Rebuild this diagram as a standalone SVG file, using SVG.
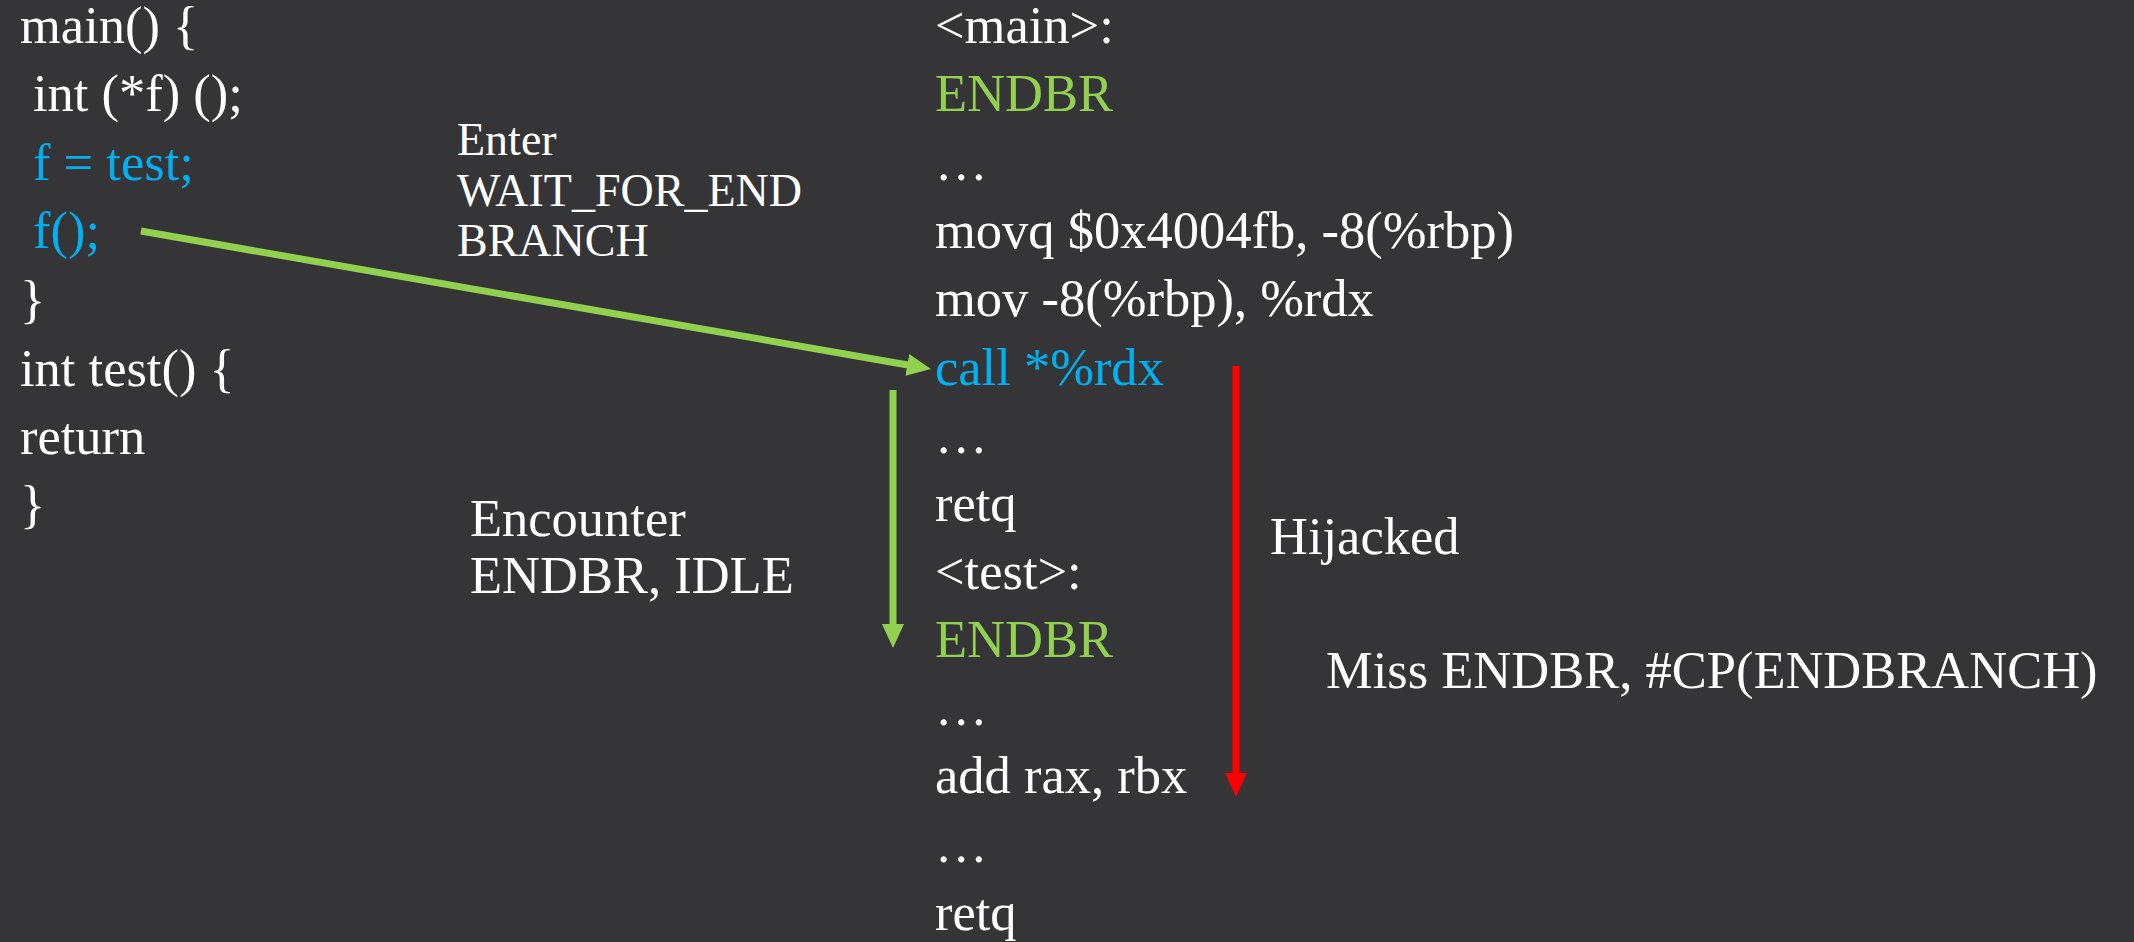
<svg xmlns="http://www.w3.org/2000/svg" width="2134" height="942" viewBox="0 0 2134 942">
  <style>
    text { font-family: "Liberation Serif", "Times New Roman", serif; font-size: 52.5px; fill: #ffffff; }
    .blue { fill: #00b0f0; }
    .green { fill: #92d050; }
    .small { font-size: 46px; }
    .conn-g { stroke: #92d050; stroke-width: 7; fill: none; }
    .conn-r { stroke: #ff0000; stroke-width: 7; fill: none; }
  </style>
  <defs>
    <marker id="head-g" markerUnits="userSpaceOnUse" markerWidth="24" markerHeight="22" refX="2" refY="11" orient="auto">
      <path d="M0,0 L24,11 L0,22 z" fill="#92d050"/>
    </marker>
    <marker id="head-r" markerUnits="userSpaceOnUse" markerWidth="24" markerHeight="22" refX="2" refY="11" orient="auto">
      <path d="M0,0 L24,11 L0,22 z" fill="#ff0000"/>
    </marker>
  </defs>

  <rect width="2134" height="942" fill="#353537"/>

  <!-- C source -->
  <g id="source">
    <text x="20" y="43">main() {</text>
    <text x="33" y="111">int (*f) ();</text>
    <text x="33" y="180" class="blue">f = test;</text>
    <text x="33" y="248" class="blue">f();</text>
    <text x="20" y="317">}</text>
    <text x="20" y="386">int test() {</text>
    <text x="20" y="454">return</text>
    <text x="20" y="522">}</text>
  </g>

  <!-- Disassembly -->
  <g id="disasm">
    <text x="935" y="43">&lt;main&gt;:</text>
    <text x="935" y="111" class="green">ENDBR</text>
    <text x="935" y="180">…</text>
    <text x="935" y="248">movq $0x4004fb, -8(%rbp)</text>
    <text x="935" y="316">mov -8(%rbp), %rdx</text>
    <text x="935" y="385" class="blue">call *%rdx</text>
    <text x="935" y="453">…</text>
    <text x="935" y="521">retq</text>
    <text x="935" y="589">&lt;test&gt;:</text>
    <text x="935" y="657" class="green">ENDBR</text>
    <text x="935" y="725">…</text>
    <text x="935" y="793">add rax, rbx</text>
    <text x="935" y="862">…</text>
    <text x="935" y="930">retq</text>
  </g>

  <!-- State labels -->
  <g id="label-enter">
    <text x="457" y="155" class="small">Enter</text>
    <text x="457" y="206" class="small">WAIT_FOR_END</text>
    <text x="457" y="256" class="small">BRANCH</text>
  </g>
  <g id="label-encounter">
    <text x="470" y="536">Encounter</text>
    <text x="470" y="593">ENDBR, IDLE</text>
  </g>
  <g id="label-hijacked">
    <text x="1270" y="554">Hijacked</text>
  </g>
  <g id="label-miss">
    <text x="1326" y="688">Miss ENDBR, #CP(ENDBRANCH)</text>
  </g>

  <!-- Connectors -->
  <g id="connectors">
    <line class="conn-g" x1="141" y1="231" x2="909.3" y2="365.2" marker-end="url(#head-g)"/>
    <line class="conn-g" x1="893" y1="390" x2="893" y2="626" marker-end="url(#head-g)"/>
    <line class="conn-r" x1="1236" y1="366" x2="1236" y2="775" marker-end="url(#head-r)"/>
  </g>
</svg>
